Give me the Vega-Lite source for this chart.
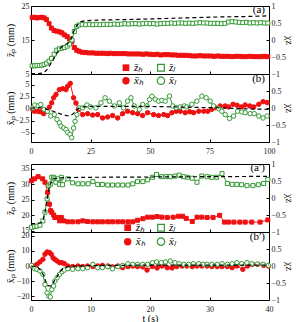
{
"$schema":"https://vega.github.io/schema/vega-lite/v6.json",
"padding":{"top":1,"left":4,"right":0,"bottom":0},
"background":"white",
"config":{
 "font":"Liberation Serif",
 "view":{"stroke":"black","strokeWidth":1},
 "axis":{"grid":false,"domain":false,"tickColor":"black","tickSize":-3,"labelPadding":5,"labelFontSize":8,"labelColor":"#222","titleFontSize":10,"titleFontWeight":"normal","titleColor":"black","labelFont":"Liberation Serif","titleFont":"Liberation Serif","labelFlush":false,"labelOverlap":false,"labelBound":false},
 "axisX":{"labelPadding":8},
 "title":{"font":"Liberation Serif","fontSize":11,"fontWeight":"normal","anchor":"end","frame":"group","offset":-13,"dx":-4}
},
"datasets":{
"a":[
{"t":0.5,"v":21.6,"s":"zh"},{"t":1.5,"v":21.7,"s":"zh"},{"t":2.5,"v":21.5,"s":"zh"},{"t":3.5,"v":21.6,"s":"zh"},{"t":4.5,"v":21.7,"s":"zh"},{"t":5.5,"v":21.5,"s":"zh"},{"t":6.5,"v":21.0,"s":"zh"},{"t":7.6,"v":19.8,"s":"zh"},{"t":8.6,"v":18.5,"s":"zh"},{"t":9.7,"v":17.8,"s":"zh"},{"t":10.8,"v":17.6,"s":"zh"},{"t":11.9,"v":17.4,"s":"zh"},{"t":13,"v":17.1,"s":"zh"},{"t":14,"v":16.5,"s":"zh"},{"t":15.2,"v":16.0,"s":"zh"},{"t":16.2,"v":15.3,"s":"zh"},{"t":17.2,"v":14.6,"s":"zh"},{"t":18.2,"v":12.8,"s":"zh"},{"t":19.2,"v":12.0,"s":"zh"},{"t":20.2,"v":11.7,"s":"zh"},{"t":21.5,"v":11.4,"s":"zh"},{"t":23,"v":11.3,"s":"zh"},{"t":24.5,"v":11.2,"s":"zh"},{"t":26,"v":11.2,"s":"zh"},{"t":27.5,"v":11.1,"s":"zh"},{"t":29,"v":11.1,"s":"zh"},{"t":30.5,"v":11.1,"s":"zh"},{"t":32,"v":11.0,"s":"zh"},{"t":33.5,"v":11.1,"s":"zh"},{"t":35,"v":11.0,"s":"zh"},{"t":36.5,"v":11.0,"s":"zh"},{"t":38,"v":11.0,"s":"zh"},{"t":39.5,"v":11.0,"s":"zh"},{"t":41,"v":10.9,"s":"zh"},{"t":42.5,"v":10.9,"s":"zh"},{"t":44,"v":10.9,"s":"zh"},{"t":45.5,"v":10.9,"s":"zh"},{"t":47,"v":10.8,"s":"zh"},{"t":48.5,"v":10.9,"s":"zh"},{"t":50,"v":10.8,"s":"zh"},{"t":51.5,"v":10.7,"s":"zh"},{"t":53,"v":10.8,"s":"zh"},{"t":54.5,"v":10.6,"s":"zh"},{"t":56,"v":10.7,"s":"zh"},{"t":57.5,"v":10.7,"s":"zh"},{"t":59,"v":10.6,"s":"zh"},{"t":60.5,"v":10.6,"s":"zh"},{"t":62,"v":10.5,"s":"zh"},{"t":63.5,"v":10.5,"s":"zh"},{"t":65,"v":10.5,"s":"zh"},{"t":66.5,"v":10.4,"s":"zh"},{"t":68,"v":10.3,"s":"zh"},{"t":69.5,"v":10.3,"s":"zh"},{"t":71,"v":10.4,"s":"zh"},{"t":72.5,"v":10.3,"s":"zh"},{"t":74,"v":10.3,"s":"zh"},{"t":75.5,"v":10.3,"s":"zh"},{"t":77,"v":10.2,"s":"zh"},{"t":78.5,"v":10.3,"s":"zh"},{"t":80,"v":10.2,"s":"zh"},{"t":81.5,"v":10.2,"s":"zh"},{"t":83,"v":10.2,"s":"zh"},{"t":84.5,"v":10.1,"s":"zh"},{"t":86,"v":10.2,"s":"zh"},{"t":87.5,"v":10.2,"s":"zh"},{"t":89,"v":10.1,"s":"zh"},{"t":90.5,"v":10.1,"s":"zh"},{"t":92,"v":10.2,"s":"zh"},{"t":93.5,"v":10.1,"s":"zh"},{"t":95,"v":10.1,"s":"zh"},{"t":96.5,"v":10.1,"s":"zh"},{"t":98,"v":10.2,"s":"zh"},{"t":99.5,"v":10.1,"s":"zh"},
{"t":0.5,"v":7.4,"s":"zl"},{"t":1.5,"v":7.4,"s":"zl"},{"t":2.5,"v":7.5,"s":"zl"},{"t":3.5,"v":7.5,"s":"zl"},{"t":4.5,"v":7.6,"s":"zl"},{"t":5.5,"v":7.8,"s":"zl"},{"t":6.5,"v":8.2,"s":"zl"},{"t":7.6,"v":8.8,"s":"zl"},{"t":8.6,"v":9.6,"s":"zl"},{"t":9.7,"v":10.8,"s":"zl"},{"t":10.8,"v":12.0,"s":"zl"},{"t":11.9,"v":12.4,"s":"zl"},{"t":13,"v":12.6,"s":"zl"},{"t":14,"v":12.8,"s":"zl"},{"t":15.2,"v":13.2,"s":"zl"},{"t":16.2,"v":13.8,"s":"zl"},{"t":17.2,"v":15.0,"s":"zl"},{"t":18.2,"v":17.5,"s":"zl"},{"t":19.2,"v":19.0,"s":"zl"},{"t":20.2,"v":19.4,"s":"zl"},{"t":21.5,"v":19.6,"s":"zl"},{"t":23,"v":19.5,"s":"zl"},{"t":24.5,"v":19.6,"s":"zl"},{"t":26,"v":19.5,"s":"zl"},{"t":27.5,"v":19.6,"s":"zl"},{"t":29,"v":19.5,"s":"zl"},{"t":30.5,"v":19.6,"s":"zl"},{"t":32,"v":19.6,"s":"zl"},{"t":33.5,"v":19.6,"s":"zl"},{"t":35,"v":19.7,"s":"zl"},{"t":36.5,"v":19.6,"s":"zl"},{"t":38,"v":19.7,"s":"zl"},{"t":39.5,"v":19.8,"s":"zl"},{"t":41,"v":19.7,"s":"zl"},{"t":42.5,"v":19.8,"s":"zl"},{"t":44,"v":19.8,"s":"zl"},{"t":45.5,"v":19.7,"s":"zl"},{"t":47,"v":19.8,"s":"zl"},{"t":48.5,"v":19.9,"s":"zl"},{"t":50,"v":19.8,"s":"zl"},{"t":51.5,"v":19.8,"s":"zl"},{"t":53,"v":19.7,"s":"zl"},{"t":54.5,"v":19.8,"s":"zl"},{"t":56,"v":19.9,"s":"zl"},{"t":57.5,"v":19.9,"s":"zl"},{"t":59,"v":20.0,"s":"zl"},{"t":60.5,"v":19.9,"s":"zl"},{"t":62,"v":20.0,"s":"zl"},{"t":63.5,"v":20.0,"s":"zl"},{"t":65,"v":19.9,"s":"zl"},{"t":66.5,"v":20.0,"s":"zl"},{"t":68,"v":19.9,"s":"zl"},{"t":69.5,"v":20.0,"s":"zl"},{"t":71,"v":20.1,"s":"zl"},{"t":72.5,"v":20.0,"s":"zl"},{"t":74,"v":20.0,"s":"zl"},{"t":75.5,"v":19.9,"s":"zl"},{"t":77,"v":19.9,"s":"zl"},{"t":78.5,"v":19.9,"s":"zl"},{"t":80,"v":19.8,"s":"zl"},{"t":81.5,"v":19.9,"s":"zl"},{"t":83,"v":20.3,"s":"zl"},{"t":84.5,"v":20.4,"s":"zl"},{"t":86,"v":20.3,"s":"zl"},{"t":87.5,"v":20.2,"s":"zl"},{"t":89,"v":20.1,"s":"zl"},{"t":90.5,"v":20.2,"s":"zl"},{"t":92,"v":20.0,"s":"zl"},{"t":93.5,"v":20.1,"s":"zl"},{"t":95,"v":20.0,"s":"zl"},{"t":96.5,"v":20.1,"s":"zl"},{"t":98,"v":20.0,"s":"zl"},{"t":99.5,"v":20.0,"s":"zl"}
],
"ad":[{"t":0,"v":5.1},{"t":3,"v":5.1},{"t":5,"v":5.3},{"t":6,"v":5.8},{"t":7,"v":6.5},{"t":8,"v":7.7},{"t":9,"v":8.8},{"t":10,"v":10.0},{"t":11,"v":11.3},{"t":12,"v":12.3},{"t":13,"v":13.0},{"t":14,"v":13.5},{"t":15,"v":13.8},{"t":16,"v":14.3},{"t":17,"v":15.5},{"t":18,"v":17.6},{"t":19,"v":19.0},{"t":20,"v":19.9},{"t":21,"v":20.4},{"t":23,"v":20.7},{"t":26,"v":20.8},{"t":30,"v":20.9},{"t":40,"v":21.0},{"t":50,"v":21.2},{"t":60,"v":21.4},{"t":70,"v":21.6},{"t":80,"v":21.8},{"t":90,"v":21.9},{"t":100,"v":22.1}],
"b":[
{"t":0.7,"v":-0.1,"s":"xh"},{"t":1.4,"v":-0.5,"s":"xh"},{"t":2.8,"v":-0.5,"s":"xh"},{"t":3.9,"v":-0.6,"s":"xh"},{"t":5.3,"v":-1.0,"s":"xh"},{"t":6.7,"v":-0.5,"s":"xh"},{"t":7.7,"v":0.35,"s":"xh"},{"t":8.7,"v":1.25,"s":"xh"},{"t":9.5,"v":2.3,"s":"xh"},{"t":10.5,"v":3.0,"s":"xh"},{"t":11.9,"v":4.0,"s":"xh"},{"t":13.3,"v":4.2,"s":"xh"},{"t":14.7,"v":4.0,"s":"xh"},{"t":15.4,"v":4.7,"s":"xh"},{"t":16.5,"v":5.3,"s":"xh"},{"t":17.9,"v":2.3,"s":"xh"},{"t":18.9,"v":1.2,"s":"xh"},{"t":19.9,"v":-0.1,"s":"xh"},{"t":21.7,"v":-1.2,"s":"xh"},{"t":23.8,"v":-1.0,"s":"xh"},{"t":25.9,"v":-1.3,"s":"xh"},{"t":28,"v":-1.2,"s":"xh"},{"t":30.1,"v":-1.9,"s":"xh"},{"t":32.2,"v":-1.7,"s":"xh"},{"t":34.3,"v":-1.4,"s":"xh"},{"t":36.4,"v":-1.9,"s":"xh"},{"t":38.5,"v":-1.0,"s":"xh"},{"t":40.6,"v":-0.5,"s":"xh"},{"t":42.7,"v":-0.8,"s":"xh"},{"t":44.8,"v":-1.0,"s":"xh"},{"t":46.9,"v":-1.4,"s":"xh"},{"t":49,"v":-0.8,"s":"xh"},{"t":51.5,"v":-1.2,"s":"xh"},{"t":53.6,"v":-1.4,"s":"xh"},{"t":55.8,"v":-1.2,"s":"xh"},{"t":57.4,"v":-1.4,"s":"xh"},{"t":59.2,"v":-0.8,"s":"xh"},{"t":61,"v":-0.5,"s":"xh"},{"t":62.7,"v":-0.5,"s":"xh"},{"t":64.8,"v":-0.8,"s":"xh"},{"t":66.7,"v":-0.6,"s":"xh"},{"t":68.3,"v":-0.8,"s":"xh"},{"t":70.5,"v":-0.5,"s":"xh"},{"t":72.6,"v":-0.5,"s":"xh"},{"t":74.3,"v":-0.5,"s":"xh"},{"t":76,"v":-0.1,"s":"xh"},{"t":77.4,"v":0.25,"s":"xh"},{"t":79.5,"v":0.6,"s":"xh"},{"t":81.6,"v":0.6,"s":"xh"},{"t":83,"v":0.4,"s":"xh"},{"t":84.9,"v":0.95,"s":"xh"},{"t":86.6,"v":0.75,"s":"xh"},{"t":88.4,"v":0.4,"s":"xh"},{"t":90,"v":0.8,"s":"xh"},{"t":91.9,"v":0.6,"s":"xh"},{"t":93.6,"v":0.4,"s":"xh"},{"t":95.7,"v":0.95,"s":"xh"},{"t":97.5,"v":1.5,"s":"xh"},{"t":99.2,"v":1.3,"s":"xh"},
{"t":0.7,"v":0.2,"s":"xl"},{"t":1.6,"v":0.8,"s":"xl"},{"t":3,"v":0.6,"s":"xl"},{"t":4.1,"v":0.9,"s":"xl"},{"t":5.5,"v":-0.1,"s":"xl"},{"t":6.9,"v":-0.5,"s":"xl"},{"t":8.3,"v":-1.5,"s":"xl"},{"t":9.8,"v":-1.2,"s":"xl"},{"t":10.9,"v":-2.2,"s":"xl"},{"t":11.9,"v":-2.9,"s":"xl"},{"t":12.6,"v":-3.6,"s":"xl"},{"t":13.7,"v":-4.0,"s":"xl"},{"t":14.7,"v":-4.3,"s":"xl"},{"t":15.4,"v":-4.9,"s":"xl"},{"t":16.4,"v":-5.3,"s":"xl"},{"t":17.1,"v":-6.0,"s":"xl"},{"t":17.9,"v":-4.0,"s":"xl"},{"t":18.5,"v":-2.6,"s":"xl"},{"t":19.3,"v":-1.2,"s":"xl"},{"t":20.3,"v":0.2,"s":"xl"},{"t":21.7,"v":0.2,"s":"xl"},{"t":23.5,"v":0.8,"s":"xl"},{"t":24.9,"v":0.4,"s":"xl"},{"t":27.3,"v":0.2,"s":"xl"},{"t":29.4,"v":1.25,"s":"xl"},{"t":31.1,"v":2.3,"s":"xl"},{"t":32.9,"v":1.6,"s":"xl"},{"t":35,"v":0.6,"s":"xl"},{"t":37.1,"v":1.25,"s":"xl"},{"t":38.9,"v":0.2,"s":"xl"},{"t":40.6,"v":1.6,"s":"xl"},{"t":42,"v":2.3,"s":"xl"},{"t":43.4,"v":0.6,"s":"xl"},{"t":45.5,"v":-0.1,"s":"xl"},{"t":46.9,"v":0.9,"s":"xl"},{"t":48.7,"v":0.6,"s":"xl"},{"t":49.8,"v":1.95,"s":"xl"},{"t":50.8,"v":2.6,"s":"xl"},{"t":52.2,"v":2.0,"s":"xl"},{"t":53.6,"v":1.6,"s":"xl"},{"t":55,"v":1.75,"s":"xl"},{"t":56.4,"v":1.6,"s":"xl"},{"t":58.2,"v":2.65,"s":"xl"},{"t":59.6,"v":0.6,"s":"xl"},{"t":61,"v":0.25,"s":"xl"},{"t":62.7,"v":0.4,"s":"xl"},{"t":64.4,"v":0.6,"s":"xl"},{"t":65.5,"v":0.4,"s":"xl"},{"t":67.6,"v":0.95,"s":"xl"},{"t":69.7,"v":1.6,"s":"xl"},{"t":71.8,"v":2.65,"s":"xl"},{"t":73.6,"v":2.3,"s":"xl"},{"t":75.3,"v":1.6,"s":"xl"},{"t":76.7,"v":0.6,"s":"xl"},{"t":78.8,"v":0.05,"s":"xl"},{"t":80.2,"v":-0.5,"s":"xl"},{"t":81.6,"v":-1.2,"s":"xl"},{"t":83.4,"v":-2.0,"s":"xl"},{"t":85.1,"v":-1.5,"s":"xl"},{"t":86.8,"v":-0.5,"s":"xl"},{"t":88.6,"v":-0.65,"s":"xl"},{"t":90,"v":-0.8,"s":"xl"},{"t":92.1,"v":-1.0,"s":"xl"},{"t":93.8,"v":-1.0,"s":"xl"},{"t":95.7,"v":-1.5,"s":"xl"},{"t":97.5,"v":-1.9,"s":"xl"},{"t":99.2,"v":-1.5,"s":"xl"}
],
"bd":[{"t":0,"v":0.1},{"t":2,"v":0.3},{"t":4,"v":0.2},{"t":6,"v":0},{"t":8,"v":-0.3},{"t":10,"v":-0.6},{"t":12,"v":-1.0},{"t":14,"v":-1.3},{"t":16,"v":-1.5},{"t":17,"v":-1.3},{"t":18,"v":-0.9},{"t":19,"v":-0.3},{"t":20,"v":0.1},{"t":22,"v":0.4},{"t":25,"v":0.5},{"t":30,"v":0.5},{"t":40,"v":0.5},{"t":50,"v":0.5},{"t":60,"v":0.4},{"t":70,"v":0.3},{"t":80,"v":0.2},{"t":90,"v":0.0},{"t":100,"v":-0.1}],
"a2":[
{"t":0.1,"v":31.2,"s":"zh"},{"t":0.6,"v":31.8,"s":"zh"},{"t":1.2,"v":32.5,"s":"zh"},{"t":1.96,"v":31.8,"s":"zh"},{"t":2.35,"v":30.7,"s":"zh"},{"t":2.8,"v":27.4,"s":"zh"},{"t":3.1,"v":23.6,"s":"zh"},{"t":3.3,"v":21.5,"s":"zh"},{"t":3.5,"v":20.9,"s":"zh"},{"t":3.8,"v":20.1,"s":"zh"},{"t":4.0,"v":19.3,"s":"zh"},{"t":4.5,"v":19.3,"s":"zh"},{"t":4.8,"v":18.2,"s":"zh"},{"t":5.1,"v":19.3,"s":"zh"},{"t":5.5,"v":18.2,"s":"zh"},{"t":6.2,"v":17.9,"s":"zh"},{"t":7.0,"v":17.9,"s":"zh"},{"t":7.9,"v":17.9,"s":"zh"},{"t":8.7,"v":18.2,"s":"zh"},{"t":9.5,"v":18.0,"s":"zh"},{"t":10.4,"v":17.9,"s":"zh"},{"t":11.2,"v":17.9,"s":"zh"},{"t":12.0,"v":17.9,"s":"zh"},{"t":12.9,"v":17.9,"s":"zh"},{"t":13.7,"v":17.9,"s":"zh"},{"t":14.6,"v":17.9,"s":"zh"},{"t":15.4,"v":17.9,"s":"zh"},{"t":16.3,"v":17.9,"s":"zh"},{"t":17.1,"v":17.9,"s":"zh"},{"t":17.9,"v":18.4,"s":"zh"},{"t":18.8,"v":18.9,"s":"zh"},{"t":19.6,"v":19.4,"s":"zh"},{"t":20.4,"v":19.4,"s":"zh"},{"t":21.2,"v":19.6,"s":"zh"},{"t":22,"v":19.4,"s":"zh"},{"t":22.9,"v":19.3,"s":"zh"},{"t":23.9,"v":19.4,"s":"zh"},{"t":24.8,"v":19.7,"s":"zh"},{"t":25.5,"v":19.7,"s":"zh"},{"t":26.1,"v":19.0,"s":"zh"},{"t":27.1,"v":18.0,"s":"zh"},{"t":27.9,"v":19.4,"s":"zh"},{"t":28.7,"v":19.4,"s":"zh"},{"t":29.6,"v":19.3,"s":"zh"},{"t":30.6,"v":19.3,"s":"zh"},{"t":31.7,"v":20.0,"s":"zh"},{"t":32.5,"v":17.8,"s":"zh"},{"t":33.2,"v":17.8,"s":"zh"},{"t":34.1,"v":17.8,"s":"zh"},{"t":35.1,"v":17.8,"s":"zh"},{"t":36,"v":17.8,"s":"zh"},{"t":37.1,"v":17.8,"s":"zh"},{"t":38.5,"v":17.8,"s":"zh"},{"t":39.8,"v":18.5,"s":"zh"},
{"t":0.1,"v":16.1,"s":"zl"},{"t":0.6,"v":16.4,"s":"zl"},{"t":1.0,"v":16.5,"s":"zl"},{"t":1.5,"v":16.8,"s":"zl"},{"t":2.0,"v":18.2,"s":"zl"},{"t":2.35,"v":21.0,"s":"zl"},{"t":2.7,"v":25.3,"s":"zl"},{"t":3.0,"v":29.6,"s":"zl"},{"t":3.25,"v":30.1,"s":"zl"},{"t":3.5,"v":32.3,"s":"zl"},{"t":3.8,"v":32.3,"s":"zl"},{"t":4.0,"v":31.8,"s":"zl"},{"t":4.2,"v":30.7,"s":"zl"},{"t":4.5,"v":31.8,"s":"zl"},{"t":4.8,"v":30.0,"s":"zl"},{"t":5.1,"v":32.3,"s":"zl"},{"t":5.3,"v":29.9,"s":"zl"},{"t":6.2,"v":31.8,"s":"zl"},{"t":7.0,"v":30.5,"s":"zl"},{"t":7.9,"v":30.2,"s":"zl"},{"t":8.7,"v":30.2,"s":"zl"},{"t":9.6,"v":30.2,"s":"zl"},{"t":10.4,"v":30.9,"s":"zl"},{"t":11.2,"v":30.0,"s":"zl"},{"t":12.0,"v":30.0,"s":"zl"},{"t":12.9,"v":29.8,"s":"zl"},{"t":13.7,"v":29.8,"s":"zl"},{"t":14.6,"v":29.8,"s":"zl"},{"t":15.4,"v":29.8,"s":"zl"},{"t":16.3,"v":29.8,"s":"zl"},{"t":17.1,"v":30.2,"s":"zl"},{"t":17.9,"v":30.9,"s":"zl"},{"t":18.8,"v":30.9,"s":"zl"},{"t":19.6,"v":31.5,"s":"zl"},{"t":20.4,"v":32.3,"s":"zl"},{"t":21.1,"v":33.2,"s":"zl"},{"t":21.9,"v":32.5,"s":"zl"},{"t":22.7,"v":32.5,"s":"zl"},{"t":23.4,"v":32.5,"s":"zl"},{"t":24.2,"v":32.7,"s":"zl"},{"t":24.9,"v":33.0,"s":"zl"},{"t":25.6,"v":32.5,"s":"zl"},{"t":26.3,"v":32.3,"s":"zl"},{"t":27.1,"v":32.0,"s":"zl"},{"t":27.9,"v":30.7,"s":"zl"},{"t":28.7,"v":32.7,"s":"zl"},{"t":29.6,"v":32.5,"s":"zl"},{"t":30.4,"v":32.3,"s":"zl"},{"t":31.2,"v":32.3,"s":"zl"},{"t":32.1,"v":33.5,"s":"zl"},{"t":33,"v":30.3,"s":"zl"},{"t":33.8,"v":30.0,"s":"zl"},{"t":34.6,"v":30.0,"s":"zl"},{"t":35.4,"v":29.9,"s":"zl"},{"t":36.3,"v":29.6,"s":"zl"},{"t":37.3,"v":29.6,"s":"zl"},{"t":38.2,"v":29.9,"s":"zl"},{"t":39.1,"v":30.3,"s":"zl"},{"t":39.8,"v":31.6,"s":"zl"}
],
"a2d":[{"t":0,"v":17.3},{"t":1.0,"v":17.3},{"t":1.6,"v":17.6},{"t":2.0,"v":18.2},{"t":2.35,"v":21.0},{"t":2.8,"v":26.4},{"t":3.25,"v":30.2},{"t":3.8,"v":31.8},{"t":4.8,"v":32.1},{"t":6,"v":32.2},{"t":10,"v":32.3},{"t":20,"v":32.4},{"t":30,"v":32.5},{"t":40,"v":32.6}],
"b2":[
{"t":0.1,"v":0,"s":"xh"},{"t":0.6,"v":0,"s":"xh"},{"t":1.0,"v":1.1,"s":"xh"},{"t":1.5,"v":2.7,"s":"xh"},{"t":2.0,"v":4.4,"s":"xh"},{"t":2.35,"v":7.8,"s":"xh"},{"t":2.7,"v":9.3,"s":"xh"},{"t":3.1,"v":8.9,"s":"xh"},{"t":3.4,"v":7.8,"s":"xh"},{"t":3.7,"v":5.5,"s":"xh"},{"t":4.0,"v":4.4,"s":"xh"},{"t":4.4,"v":3.3,"s":"xh"},{"t":4.8,"v":2.2,"s":"xh"},{"t":5.2,"v":2.2,"s":"xh"},{"t":5.6,"v":1.6,"s":"xh"},{"t":6.2,"v":0,"s":"xh"},{"t":7.0,"v":-0.4,"s":"xh"},{"t":7.9,"v":0,"s":"xh"},{"t":8.7,"v":-0.4,"s":"xh"},{"t":9.5,"v":0,"s":"xh"},{"t":10.4,"v":-0.4,"s":"xh"},{"t":11.2,"v":0,"s":"xh"},{"t":12.0,"v":0.4,"s":"xh"},{"t":12.9,"v":0,"s":"xh"},{"t":13.7,"v":-0.6,"s":"xh"},{"t":14.6,"v":0,"s":"xh"},{"t":15.4,"v":-1.1,"s":"xh"},{"t":16.3,"v":-0.4,"s":"xh"},{"t":17.1,"v":0,"s":"xh"},{"t":17.9,"v":-0.4,"s":"xh"},{"t":18.8,"v":-0.6,"s":"xh"},{"t":19.5,"v":-2.7,"s":"xh"},{"t":20.4,"v":-0.4,"s":"xh"},{"t":21.2,"v":-1.3,"s":"xh"},{"t":22,"v":0,"s":"xh"},{"t":22.9,"v":-1.1,"s":"xh"},{"t":23.7,"v":-1.3,"s":"xh"},{"t":24.5,"v":-0.4,"s":"xh"},{"t":25.4,"v":0,"s":"xh"},{"t":26.2,"v":0,"s":"xh"},{"t":27.1,"v":-0.4,"s":"xh"},{"t":27.9,"v":0,"s":"xh"},{"t":28.7,"v":0,"s":"xh"},{"t":29.6,"v":0,"s":"xh"},{"t":30.4,"v":-0.4,"s":"xh"},{"t":31.3,"v":-0.4,"s":"xh"},{"t":32.1,"v":-0.4,"s":"xh"},{"t":33,"v":-0.4,"s":"xh"},{"t":33.8,"v":-1.1,"s":"xh"},{"t":34.6,"v":0,"s":"xh"},{"t":35.6,"v":-2.2,"s":"xh"},{"t":36.4,"v":0,"s":"xh"},{"t":37.2,"v":1.1,"s":"xh"},{"t":38.1,"v":1.1,"s":"xh"},{"t":39.1,"v":0.4,"s":"xh"},{"t":39.9,"v":0,"s":"xh"},
{"t":0.1,"v":0.4,"s":"xl"},{"t":0.6,"v":-1.8,"s":"xl"},{"t":1.0,"v":-2.2,"s":"xl"},{"t":1.5,"v":-3.3,"s":"xl"},{"t":2.0,"v":-5.5,"s":"xl"},{"t":2.35,"v":-12.2,"s":"xl"},{"t":2.7,"v":-17.8,"s":"xl"},{"t":3.0,"v":-20,"s":"xl"},{"t":3.25,"v":-20.5,"s":"xl"},{"t":3.5,"v":-15.6,"s":"xl"},{"t":3.8,"v":-13.3,"s":"xl"},{"t":4.0,"v":-10,"s":"xl"},{"t":4.4,"v":-7.8,"s":"xl"},{"t":4.8,"v":-5.5,"s":"xl"},{"t":5.2,"v":-3.8,"s":"xl"},{"t":5.6,"v":-2.7,"s":"xl"},{"t":6.2,"v":-1.8,"s":"xl"},{"t":7.0,"v":-2.2,"s":"xl"},{"t":7.9,"v":-1.8,"s":"xl"},{"t":8.7,"v":-1.8,"s":"xl"},{"t":9.5,"v":-1.1,"s":"xl"},{"t":10.4,"v":1.1,"s":"xl"},{"t":11.2,"v":-1.1,"s":"xl"},{"t":12.0,"v":-1.1,"s":"xl"},{"t":12.9,"v":-0.4,"s":"xl"},{"t":13.7,"v":-1.8,"s":"xl"},{"t":14.6,"v":-0.4,"s":"xl"},{"t":15.4,"v":0.4,"s":"xl"},{"t":16.3,"v":1.5,"s":"xl"},{"t":17.1,"v":1.1,"s":"xl"},{"t":17.9,"v":1.1,"s":"xl"},{"t":18.8,"v":1.1,"s":"xl"},{"t":19.6,"v":1.1,"s":"xl"},{"t":20.4,"v":2.2,"s":"xl"},{"t":21.1,"v":2.7,"s":"xl"},{"t":21.9,"v":2.2,"s":"xl"},{"t":22.6,"v":2.7,"s":"xl"},{"t":23.4,"v":3.3,"s":"xl"},{"t":24.2,"v":2.2,"s":"xl"},{"t":24.9,"v":1.5,"s":"xl"},{"t":25.7,"v":1.1,"s":"xl"},{"t":26.5,"v":1.1,"s":"xl"},{"t":27.3,"v":1.5,"s":"xl"},{"t":28.2,"v":1.5,"s":"xl"},{"t":28.9,"v":1.1,"s":"xl"},{"t":29.6,"v":1.1,"s":"xl"},{"t":30.4,"v":1.1,"s":"xl"},{"t":31.3,"v":1.1,"s":"xl"},{"t":32.1,"v":1.5,"s":"xl"},{"t":33,"v":1.1,"s":"xl"},{"t":33.8,"v":1.5,"s":"xl"},{"t":34.6,"v":2.2,"s":"xl"},{"t":35.4,"v":1.5,"s":"xl"},{"t":36.3,"v":2.2,"s":"xl"},{"t":37.1,"v":1.5,"s":"xl"},{"t":38,"v":1.3,"s":"xl"},{"t":39,"v":1.1,"s":"xl"},{"t":39.9,"v":0.4,"s":"xl"}
],
"b2d":[{"t":0,"v":0},{"t":1.0,"v":-0.5},{"t":1.5,"v":-2.2},{"t":2.2,"v":-6.7},{"t":2.7,"v":-12.9},{"t":3.4,"v":-13.3},{"t":3.9,"v":-10},{"t":4.5,"v":-6.2},{"t":5.2,"v":-2.2},{"t":6.2,"v":-0.4},{"t":7,"v":0},{"t":10,"v":0.3},{"t":20,"v":0.6},{"t":30,"v":0.6},{"t":40,"v":0.6}],
"chi":[{"c":-1},{"c":1}]
},
"spacing":3,
"resolve":{"scale":{"color":"independent","fill":"independent","shape":"independent","stroke":"independent"}},
"vconcat":[
{"bounds":"flush","spacing":0,"resolve":{"scale":{"color":"independent","fill":"independent","shape":"independent","stroke":"independent"}},
 "vconcat":[
 {"width":238,"height":68,"title":{"text":"(a)"},
  "resolve":{"scale":{"y":"independent"}},
  "layer":[
   {"encoding":{"x":{"field":"t","type":"quantitative","scale":{"domain":[0,100],"nice":false},"axis":{"labels":false,"title":null,"values":[0,25,50,75,100]}},
                "y":{"field":"v","type":"quantitative","scale":{"domain":[5,25],"nice":false,"zero":false},"axis":{"title":"z\u0304\u209a (mm)","values":[5,15,25],"format":".1~f","titleX":-16}}},
    "layer":[
     {"data":{"name":"a"},"mark":{"type":"line","strokeWidth":1},"encoding":{"stroke":{"field":"s","type":"nominal","scale":{"domain":["zh","zl"],"range":["#ee1111","#339933"]},"legend":null}}},
     {"data":{"name":"a"},"mark":{"type":"point","size":16,"strokeWidth":1,"opacity":1,"shape":"square"},"encoding":{
       "color":{"field":"s","type":"nominal","scale":{"domain":["zh","zl"],"range":["#ee1111","#339933"]},"legend":null},
       "fill":{"field":"s","type":"nominal","scale":{"domain":["zh","zl"],"range":["#ee1111","white"]},"legend":null}}},
     {"data":{"name":"ad"},"mark":{"type":"line","color":"black","strokeDash":[4,3],"strokeWidth":1.2},"encoding":{}}
    ]},
   {"data":{"values":[{"k":"zh"}]},"mark":{"type":"point","shape":"square","size":45,"filled":true,"color":"#ee1111","opacity":1},"encoding":{"x":{"datum":39.9,"type":"quantitative","scale":{"domain":[0,100],"nice":false}},"y":{"datum":6.85,"type":"quantitative","scale":{"domain":[5,25],"nice":false,"zero":false},"axis":null}}},
   {"data":{"values":[{"k":"zh"}]},"mark":{"type":"text","text":"z\u0304\u2095","align":"left","baseline":"middle","fontSize":11,"fontStyle":"italic","font":"Liberation Serif","color":"black"},"encoding":{"x":{"datum":43.3,"type":"quantitative","scale":{"domain":[0,100],"nice":false}},"y":{"datum":6.85,"type":"quantitative","scale":{"domain":[5,25],"nice":false,"zero":false},"axis":null}}},
   {"data":{"values":[{"k":"zl"}]},"mark":{"type":"point","shape":"square","size":45,"filled":false,"fill":"white","strokeWidth":1.2,"color":"#339933","opacity":1},"encoding":{"x":{"datum":54.6,"type":"quantitative","scale":{"domain":[0,100],"nice":false}},"y":{"datum":6.85,"type":"quantitative","scale":{"domain":[5,25],"nice":false,"zero":false},"axis":null}}},
   {"data":{"values":[{"k":"zl"}]},"mark":{"type":"text","text":"z\u0304\u2097","align":"left","baseline":"middle","fontSize":11,"fontStyle":"italic","font":"Liberation Serif","color":"black"},"encoding":{"x":{"datum":58.0,"type":"quantitative","scale":{"domain":[0,100],"nice":false}},"y":{"datum":6.85,"type":"quantitative","scale":{"domain":[5,25],"nice":false,"zero":false},"axis":null}}},
   {"data":{"name":"chi"},"mark":{"type":"point","opacity":0},"encoding":{"y":{"field":"c","type":"quantitative","scale":{"domain":[-1,1],"nice":false},"axis":{"orient":"right","title":"\u03c7z","values":[-1,-0.5,0,0.5,1],"format":".1~f","titleX":14}}}}
  ]},
 {"width":238,"height":68,"title":{"text":"(b)"},
  "resolve":{"scale":{"y":"independent"}},
  "layer":[
   {"encoding":{"x":{"field":"t","type":"quantitative","scale":{"domain":[0,100],"nice":false},"axis":{"title":null,"values":[0,25,50,75,100],"format":"d"}},
                "y":{"field":"v","type":"quantitative","scale":{"domain":[-6.9,7.25],"nice":false,"zero":false},"axis":{"title":"x\u0304\u209a (mm)","values":[-5,-2.5,0,2.5,5],"format":".1~f","titleX":-16}}},
    "layer":[
     {"data":{"name":"b"},"mark":{"type":"line","strokeWidth":1},"encoding":{"stroke":{"field":"s","type":"nominal","scale":{"domain":["xh","xl"],"range":["#ee1111","#339933"]},"legend":null}}},
     {"data":{"name":"b"},"mark":{"type":"point","size":20,"strokeWidth":1,"opacity":1,"shape":"circle"},"encoding":{
       "color":{"field":"s","type":"nominal","scale":{"domain":["xh","xl"],"range":["#ee1111","#339933"]},"legend":null},
       "fill":{"field":"s","type":"nominal","scale":{"domain":["xh","xl"],"range":["#ee1111","white"]},"legend":null}}},
     {"data":{"name":"bd"},"mark":{"type":"line","color":"black","strokeDash":[4,3],"strokeWidth":1.2},"encoding":{}}
    ]},
   {"data":{"values":[{"k":"xh"}]},"mark":{"type":"point","shape":"circle","size":55,"filled":true,"color":"#ee1111","opacity":1},"encoding":{"x":{"datum":39.9,"type":"quantitative","scale":{"domain":[0,100],"nice":false}},"y":{"datum":5.86,"type":"quantitative","scale":{"domain":[-6.9,7.25],"nice":false,"zero":false},"axis":null}}},
   {"data":{"values":[{"k":"xh"}]},"mark":{"type":"text","text":"x\u0304\u2095","align":"left","baseline":"middle","fontSize":11,"fontStyle":"italic","font":"Liberation Serif","color":"black"},"encoding":{"x":{"datum":43.3,"type":"quantitative","scale":{"domain":[0,100],"nice":false}},"y":{"datum":5.86,"type":"quantitative","scale":{"domain":[-6.9,7.25],"nice":false,"zero":false},"axis":null}}},
   {"data":{"values":[{"k":"xl"}]},"mark":{"type":"point","shape":"circle","size":55,"filled":false,"fill":"white","strokeWidth":1.2,"color":"#339933","opacity":1},"encoding":{"x":{"datum":54.6,"type":"quantitative","scale":{"domain":[0,100],"nice":false}},"y":{"datum":5.86,"type":"quantitative","scale":{"domain":[-6.9,7.25],"nice":false,"zero":false},"axis":null}}},
   {"data":{"values":[{"k":"xl"}]},"mark":{"type":"text","text":"x\u0304\u2097","align":"left","baseline":"middle","fontSize":11,"fontStyle":"italic","font":"Liberation Serif","color":"black"},"encoding":{"x":{"datum":58.0,"type":"quantitative","scale":{"domain":[0,100],"nice":false}},"y":{"datum":5.86,"type":"quantitative","scale":{"domain":[-6.9,7.25],"nice":false,"zero":false},"axis":null}}},
   {"data":{"name":"chi"},"mark":{"type":"point","opacity":0},"encoding":{"y":{"field":"c","type":"quantitative","scale":{"domain":[-1,1],"nice":false},"axis":{"orient":"right","title":"\u03c7z","values":[-1,-0.5,0,0.5],"format":".1~f","titleX":14}}}}
  ]}
 ]},
{"bounds":"flush","spacing":0,"resolve":{"scale":{"color":"independent","fill":"independent","shape":"independent","stroke":"independent"}},
 "vconcat":[
 {"width":238,"height":68,"title":{"text":"(a\u2032)"},
  "resolve":{"scale":{"y":"independent"}},
  "layer":[
   {"encoding":{"x":{"field":"t","type":"quantitative","scale":{"domain":[0,40],"nice":false},"axis":{"labels":false,"title":null,"values":[0,10,20,30,40]}},
                "y":{"field":"v","type":"quantitative","scale":{"domain":[14.6,36.6],"nice":false,"zero":false},"axis":{"title":"z\u0304\u209a (mm)","values":[15,20,25,30,35],"format":".1~f","titleX":-16}}},
    "layer":[
     {"data":{"name":"a2"},"mark":{"type":"line","strokeWidth":1},"encoding":{"stroke":{"field":"s","type":"nominal","scale":{"domain":["zh","zl"],"range":["#ee1111","#339933"]},"legend":null}}},
     {"data":{"name":"a2"},"mark":{"type":"point","size":16,"strokeWidth":1,"opacity":1,"shape":"square"},"encoding":{
       "color":{"field":"s","type":"nominal","scale":{"domain":["zh","zl"],"range":["#ee1111","#339933"]},"legend":null},
       "fill":{"field":"s","type":"nominal","scale":{"domain":["zh","zl"],"range":["#ee1111","white"]},"legend":null}}},
     {"data":{"name":"a2d"},"mark":{"type":"line","color":"black","strokeDash":[4,3],"strokeWidth":1.2},"encoding":{}}
    ]},
   {"data":{"values":[{"k":"zh"}]},"mark":{"type":"point","shape":"square","size":45,"filled":true,"color":"#ee1111","opacity":1},"encoding":{"x":{"datum":16.25,"type":"quantitative","scale":{"domain":[0,40],"nice":false}},"y":{"datum":16.0,"type":"quantitative","scale":{"domain":[14.6,36.6],"nice":false,"zero":false},"axis":null}}},
   {"data":{"values":[{"k":"zh"}]},"mark":{"type":"text","text":"z\u0304\u2095","align":"left","baseline":"middle","fontSize":11,"fontStyle":"italic","font":"Liberation Serif","color":"black"},"encoding":{"x":{"datum":17.6,"type":"quantitative","scale":{"domain":[0,40],"nice":false}},"y":{"datum":16.0,"type":"quantitative","scale":{"domain":[14.6,36.6],"nice":false,"zero":false},"axis":null}}},
   {"data":{"values":[{"k":"zl"}]},"mark":{"type":"point","shape":"square","size":45,"filled":false,"fill":"white","strokeWidth":1.2,"color":"#339933","opacity":1},"encoding":{"x":{"datum":21.85,"type":"quantitative","scale":{"domain":[0,40],"nice":false}},"y":{"datum":16.0,"type":"quantitative","scale":{"domain":[14.6,36.6],"nice":false,"zero":false},"axis":null}}},
   {"data":{"values":[{"k":"zl"}]},"mark":{"type":"text","text":"z\u0304\u2097","align":"left","baseline":"middle","fontSize":11,"fontStyle":"italic","font":"Liberation Serif","color":"black"},"encoding":{"x":{"datum":23.2,"type":"quantitative","scale":{"domain":[0,40],"nice":false}},"y":{"datum":16.0,"type":"quantitative","scale":{"domain":[14.6,36.6],"nice":false,"zero":false},"axis":null}}},
   {"data":{"name":"chi"},"mark":{"type":"point","opacity":0},"encoding":{"y":{"field":"c","type":"quantitative","scale":{"domain":[-1,1],"nice":false},"axis":{"orient":"right","title":"\u03c7z","values":[-1,-0.5,0,0.5,1],"format":".1~f","titleX":14}}}}
  ]},
 {"width":238,"height":68,"title":{"text":"(b\u2032)"},
  "resolve":{"scale":{"y":"independent"}},
  "layer":[
   {"encoding":{"x":{"field":"t","type":"quantitative","scale":{"domain":[0,40],"nice":false},"axis":{"title":"t (s)","titleFontSize":10,"titlePadding":0,"values":[0,10,20,30,40],"format":"d"}},
                "y":{"field":"v","type":"quantitative","scale":{"domain":[-22.5,22.5],"nice":false,"zero":false},"axis":{"title":"x\u0304\u209a (mm)","values":[-20,-10,0,10,20],"format":"d","titleX":-16}}},
    "layer":[
     {"data":{"name":"b2"},"mark":{"type":"line","strokeWidth":1},"encoding":{"stroke":{"field":"s","type":"nominal","scale":{"domain":["xh","xl"],"range":["#ee1111","#339933"]},"legend":null}}},
     {"data":{"name":"b2"},"mark":{"type":"point","size":20,"strokeWidth":1,"opacity":1,"shape":"circle"},"encoding":{
       "color":{"field":"s","type":"nominal","scale":{"domain":["xh","xl"],"range":["#ee1111","#339933"]},"legend":null},
       "fill":{"field":"s","type":"nominal","scale":{"domain":["xh","xl"],"range":["#ee1111","white"]},"legend":null}}},
     {"data":{"name":"b2d"},"mark":{"type":"line","color":"black","strokeDash":[4,3],"strokeWidth":1.2},"encoding":{}}
    ]},
   {"data":{"values":[{"k":"xh"}]},"mark":{"type":"point","shape":"circle","size":55,"filled":true,"color":"#ee1111","opacity":1},"encoding":{"x":{"datum":16.25,"type":"quantitative","scale":{"domain":[0,40],"nice":false}},"y":{"datum":16.1,"type":"quantitative","scale":{"domain":[-22.5,22.5],"nice":false,"zero":false},"axis":null}}},
   {"data":{"values":[{"k":"xh"}]},"mark":{"type":"text","text":"x\u0304\u2095","align":"left","baseline":"middle","fontSize":11,"fontStyle":"italic","font":"Liberation Serif","color":"black"},"encoding":{"x":{"datum":17.6,"type":"quantitative","scale":{"domain":[0,40],"nice":false}},"y":{"datum":16.1,"type":"quantitative","scale":{"domain":[-22.5,22.5],"nice":false,"zero":false},"axis":null}}},
   {"data":{"values":[{"k":"xl"}]},"mark":{"type":"point","shape":"circle","size":55,"filled":false,"fill":"white","strokeWidth":1.2,"color":"#339933","opacity":1},"encoding":{"x":{"datum":21.85,"type":"quantitative","scale":{"domain":[0,40],"nice":false}},"y":{"datum":16.1,"type":"quantitative","scale":{"domain":[-22.5,22.5],"nice":false,"zero":false},"axis":null}}},
   {"data":{"values":[{"k":"xl"}]},"mark":{"type":"text","text":"x\u0304\u2097","align":"left","baseline":"middle","fontSize":11,"fontStyle":"italic","font":"Liberation Serif","color":"black"},"encoding":{"x":{"datum":23.2,"type":"quantitative","scale":{"domain":[0,40],"nice":false}},"y":{"datum":16.1,"type":"quantitative","scale":{"domain":[-22.5,22.5],"nice":false,"zero":false},"axis":null}}},
   {"data":{"name":"chi"},"mark":{"type":"point","opacity":0},"encoding":{"y":{"field":"c","type":"quantitative","scale":{"domain":[-1,1],"nice":false},"axis":{"orient":"right","title":"\u03c7z","values":[-1,-0.5,0,0.5],"format":".1~f","titleX":14}}}}
  ]}
 ]}
]
}
